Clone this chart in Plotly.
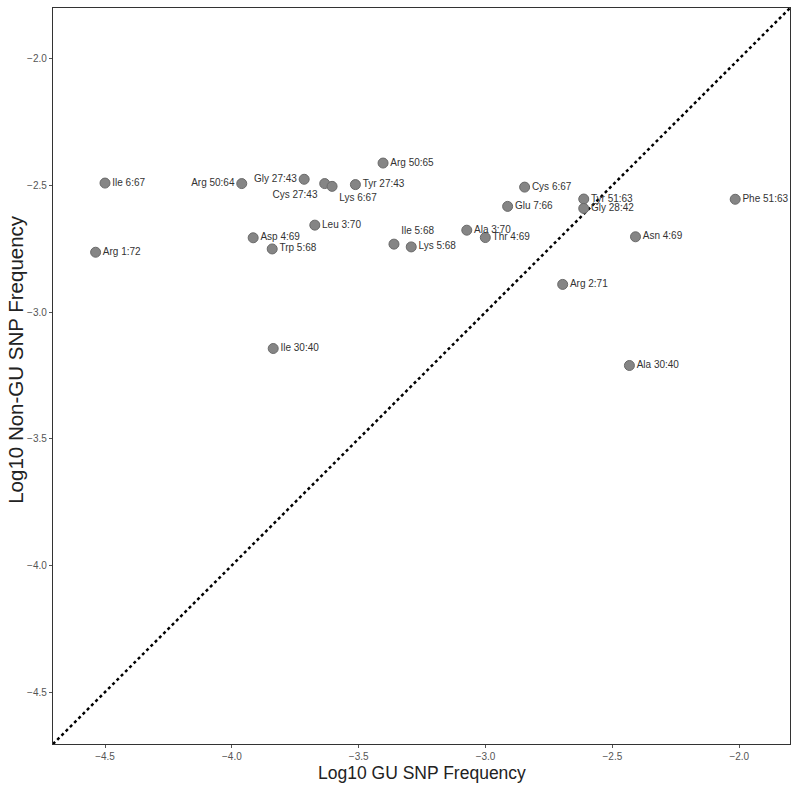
import plotly.graph_objects as go

labels = ["Ile 6:67", "Arg 1:72", "Arg 50:64", "Gly 27:43", "Cys 27:43", "Lys 6:67",
          "Tyr 27:43", "Arg 50:65", "Leu 3:70", "Asp 4:69", "Trp 5:68", "Ile 5:68",
          "Lys 5:68", "Ala 3:70", "Thr 4:69", "Glu 7:66", "Cys 6:67", "Tyr 51:63",
          "Gly 28:42", "Arg 2:71", "Asn 4:69", "Phe 51:63", "Ile 30:40", "Ala 30:40"]
gu_freq = [-4.500, -4.537, -3.961, -3.715, -3.634, -3.605,
           -3.513, -3.404, -3.673, -3.916, -3.841, -3.361,
           -3.293, -3.074, -3.001, -2.913, -2.846, -2.613,
           -2.613, -2.696, -2.409, -2.016, -3.837, -2.433]
non_gu_freq = [-2.491, -2.764, -2.493, -2.476, -2.493, -2.504,
               -2.497, -2.412, -2.657, -2.707, -2.751, -2.732,
               -2.743, -2.677, -2.706, -2.583, -2.507, -2.554,
               -2.591, -2.891, -2.703, -2.555, -3.144, -3.211]
text_pos = ["middle right", "middle right", "middle left", "middle left", "bottom left", "bottom right",
            "middle right", "middle right", "middle right", "middle right", "middle right", "top right",
            "middle right", "middle right", "middle right", "middle right", "middle right", "middle right",
            "middle right", "middle right", "middle right", "middle right", "middle right", "middle right"]

axis_range = [-4.705, -1.80]
tick_vals = [-4.5, -4.0, -3.5, -3.0, -2.5, -2.0]
tick_text = ["\u22124.5", "\u22124.0", "\u22123.5", "\u22123.0", "\u22122.5", "\u22122.0"]
FONT = "Liberation Sans, Arial, sans-serif"

fig = go.Figure()
fig.add_shape(type="line", x0=axis_range[0], y0=axis_range[0], x1=axis_range[1], y1=axis_range[1],
              xref="x", yref="y", line=dict(color="black", width=2.5, dash="dot"), layer="below")
fig.add_trace(go.Scatter(
    x=gu_freq, y=non_gu_freq, mode="markers+text", text=labels, textposition=text_pos,
    marker=dict(size=10, color="#858585", line=dict(color="#6a6a6a", width=1)),
    textfont=dict(family=FONT, size=10, color="#333333"),
    showlegend=False, cliponaxis=False,
))

axis_common = dict(
    range=axis_range, tickvals=tick_vals, ticktext=tick_text, automargin=False,
    showgrid=False, zeroline=False, showline=True, linecolor="#333333", linewidth=1.3, mirror=True,
    ticks="outside", ticklen=3, tickcolor="#555555",
    tickfont=dict(family=FONT, size=10, color="#555555"),
)
fig.update_xaxes(**axis_common)
fig.update_yaxes(**axis_common)

fig.add_annotation(text="Log10 GU SNP Frequency", xref="paper", yref="paper", x=0.5, y=0,
                   yshift=-29, xanchor="center", yanchor="middle", showarrow=False,
                   font=dict(family=FONT, size=17.5, color="#222222"))
fig.add_annotation(text="Log10 Non-GU SNP Frequency", xref="paper", yref="paper", x=0, y=0.522,
                   xshift=-37, xanchor="center", yanchor="middle", showarrow=False, textangle=-90,
                   font=dict(family=FONT, size=20.5, color="#222222"))

fig.update_layout(
    width=798, height=787, margin=dict(l=53, r=8, t=8, b=43),
    paper_bgcolor="white", plot_bgcolor="white",
    font=dict(family=FONT),
)
# remove the default 8px page margin so the figure fills the window exactly
fig.write_html("out.html", config={"displayModeBar": False},
               post_script="document.body.style.margin='0';document.body.style.overflow='hidden';")
